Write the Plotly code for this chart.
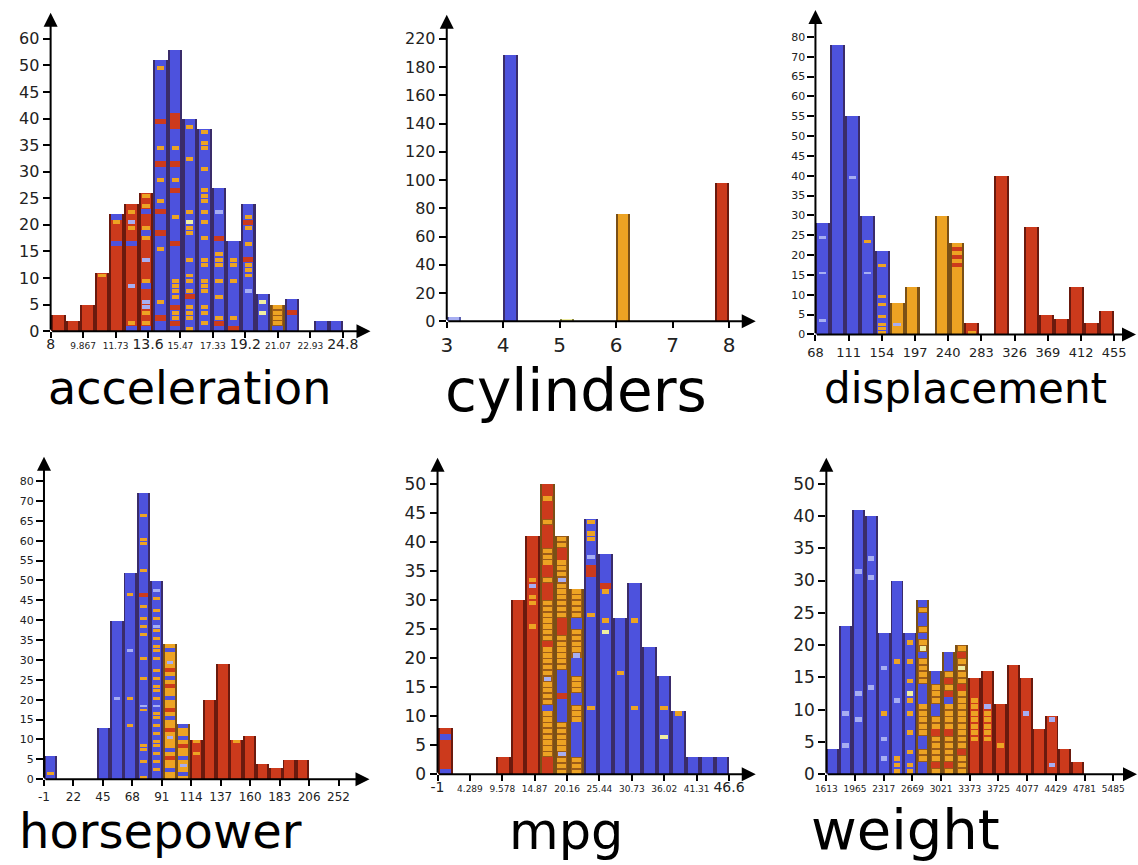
import re
import plotly.graph_objects as go

FONT = "DejaVu Sans"
W, H = 1138, 865

# ---------------------------------------------------------------------------
# Data: every histogram has 20 equal bins.  Each bin is a run-length string,
# read bottom to top, one unit per car, coloured by cylinder count:
#   L = 3 cylinders, B = 4, Y = 5, O = 6, R = 8
# ---------------------------------------------------------------------------
ACCEL_X_LABELS = ["8", "9.867", "11.73", "13.6", "15.47", "17.33", "19.2", "21.07", "22.93", "24.8"]
ACCEL_Y_LABELS = ["0", "5", "10", "15", "20", "25", "30", "35", "40", "45", "50", "60"]
ACCEL_BINS = [
    "R3", "R2", "R5", "R10O1", "R16B1R3O1B1",
    "B1O1R6L1R7B1R2O1L1R1O1R1",
    "B1O1R1O1L2R2B1O1R3L1R3O1B1O1R2B1O1R1O1",
    "B2R1B2O1B9O1B2R1B3R1B1O1B3O1B2R1B2O1B4R1B9O1B1",
    "B1R1O2R1B1O4B6R1B4O1B4R1B1O1B2R1B2O1B3R3B12",
    "O1B1O3B1R1O1B1O2B2O1B4O2Y1B1O1B9O1B5O1B1",
    "B1O1B1O2B2O3B2O2B3O1B2O1B1O1B1O3B3O1B3O2B1O1",
    "B1R1O1B3O1B2O1B2O3B2R1B4L1B4",
    "R1B1O1B6O1B2O2B3",
    "B7L1B2O3R1B2O1B2O1R1O1B2",
    "B3Y1B1Y1B1", "B1O4", "B3R1B2", "", "B2", "B2",
]

CYL_X_LABELS = ["3", "4", "5", "6", "7", "8"]
CYL_Y_LABELS = ["0", "20", "40", "60", "80", "100", "120", "140", "160", "180", "220"]
CYL_BINS = [
    "L3", "", "", "", "B189", "", "", "", "Y2", "", "", "", "O76",
    "", "", "", "", "", "", "R98",
]

DISP_X_LABELS = ["68", "111", "154", "197", "240", "283", "326", "369", "412", "455"]
DISP_Y_LABELS = ["0", "5", "10", "15", "20", "25", "30", "35", "40", "45", "50",
                 "55", "60", "65", "70", "80"]
DISP_BINS = [
    "B3L1B11L1B8L1B3", "B73", "B39L1B15", "B15L1B7O1B6", "O3B1O1B2O1B1O1B7O1B3",
    "O2L1O5", "O12", "", "O30", "O17R1O1R1O1R1O1", "O1R2", "", "R40", "", "R27",
    "R5", "R4", "R12", "R3", "R6",
]

HP_X_LABELS = ["-1", "22", "45", "68", "91", "114", "137", "160", "183", "206", "252"]
HP_Y_LABELS = ["0", "5", "10", "15", "20", "25", "30", "35", "40", "45", "50",
               "55", "60", "65", "70", "80"]
HP_BINS = [
    "B1O1B4", "", "", "", "B13", "B20L1B19",
    "B13O1B6O1B11L1B13O1B5",
    "O1B3O1B2O2B8O1L1B6O1B4O1B5O1B1O1B1O1B2O1B2R1B5O1B6O2B5O1B5",
    "B2O1B1O1B1O1B1O2B1O1B1O1B1O2B1L1B1O1B1O2B1O1B1O1B2O1B1O2B1O1B1O1L1B1O1B1O1B2O1B1L1B2",
    "O2B1O2R1O1B1O2L1O1R1O2B1O1R1O2B1O2R1O1B1O1R1O1L1O2B1O1",
    "O1B1O1L1O1B1O2R1O1B1O2B1",
    "R6O1R2O1", "R20", "R29", "R9O1", "R11", "R4", "R3", "R5", "R5",
]

MPG_X_LABELS = ["-1", "4.289", "9.578", "14.87", "20.16", "25.44", "30.73", "36.02", "41.31", "46.6"]
MPG_Y_LABELS = ["0", "5", "10", "15", "20", "25", "30", "35", "40", "45", "50"]
MPG_BINS = [
    "B1R5B1R1", "", "", "", "R3", "R30", "R25O1R3O2R1L1O1R7",
    "R3O8B1O4L1O5R1O7R3O1R2O3R4O1R3O1R2",
    "O3L1O5B4R1B4O6R3O6L1O3R2O2",
    "O3B6O3B2O3B3L1O4B2O5",
    "B11O1B15O1B6R2B1L1B2O2B1O1",
    "B24Y1B1O1B4O1R1B5", "B17O1B9", "B11O1B14O1B6", "B22", "B6Y1B4O1B5",
    "B10O1", "B3", "B3", "B3",
]

WEIGHT_X_LABELS = ["1613", "1965", "2317", "2669", "3021", "3373", "3725", "4077",
                   "4429", "4781", "5485"]
WEIGHT_Y_LABELS = ["0", "5", "10", "15", "20", "25", "30", "35", "40", "50"]
WEIGHT_BINS = [
    "B4", "B4L1B4L1B13", "B8L1B3L1B18L1B9", "B13L1B16L1B2L1B6",
    "B2L1B2L1B3O1B6L1B5", "O3B8L1B5O1B12",
    "O2B1O1B2O1B2O1B1O1Y1B1O1B2O1B2O1B1",
    "B2O2B2O5B3O4B1Y1O1B1O1B2O1B1",
    "O1R1O4R1O2B2O3B2", "O1R1O4R1O4B1R1O1R1O1B3",
    "O3R1O9R1O2Y1O1R1O1", "R5O7R3", "R5O5L1R5", "R4O1R6", "R17",
    "R9L1R5", "R7", "R1L1R6L1", "R4", "R2",
]

# ---------------------------------------------------------------------------
# Panel layout (pixel boxes) and text styling
# ---------------------------------------------------------------------------
PANELS = [
    dict(title="acceleration", xl=ACCEL_X_LABELS, yl=ACCEL_Y_LABELS, bins=ACCEL_BINS,
         xhi="24.8", x0=40, x1=363, xhi_px=335, y0=335, y1=13, ytop_px=39.3,
         yfs=16, xfs=9, xbig=14, big=["8", "13.6", "19.2", "24.8"],
         tx=180, ty=422, tfs=46),
    dict(title="cylinders", xl=CYL_X_LABELS, yl=CYL_Y_LABELS, bins=CYL_BINS,
         xhi="8", x0=440, x1=752, xhi_px=725, y0=325, y1=15, ytop_px=39.3,
         yfs=16, xfs=20, xbig=20, big=[], tx=571, ty=432, tfs=58),
    dict(title="displacement", xl=DISP_X_LABELS, yl=DISP_Y_LABELS, bins=DISP_BINS,
         xhi="455", x0=812.3, x1=1136, xhi_px=1114, y0=338.3, y1=10, ytop_px=37.3,
         yfs=11, xfs=13, xbig=13, big=[], tx=964, ty=420, tfs=42),
    dict(title="horsepower", xl=HP_X_LABELS, yl=HP_Y_LABELS, bins=HP_BINS,
         xhi="206", x0=33.3, x1=362, xhi_px=301, y0=788.3, y1=462, ytop_px=486.7,
         yfs=11, xfs=12, xbig=12, big=[], tx=151, ty=871, tfs=48),
    dict(title="mpg", xl=MPG_X_LABELS, yl=MPG_Y_LABELS, bins=MPG_BINS,
         xhi="46.6", x0=430.7, x1=752, xhi_px=725, y0=783.3, y1=463, ytop_px=489.3,
         yfs=17, xfs=9, xbig=14, big=["-1", "46.6"], tx=560, ty=873, tfs=51),
    dict(title="weight", xl=WEIGHT_X_LABELS, yl=WEIGHT_Y_LABELS, bins=WEIGHT_BINS,
         xhi="4781", x0=823.3, x1=1137, xhi_px=1084, y0=783.3, y1=463, ytop_px=489.3,
         yfs=17, xfs=9, xbig=9, big=[], tx=903, ty=874, tfs=56),
]

FILL = {"B": "#4d52dd", "R": "#cc3a1c", "O": "#eda323", "L": "#a7aef2", "Y": "#efeda2"}
EDGE = {"B": "#3a2c6a", "R": "#6a1a0e", "O": "#7a5016", "L": "#5c61b0", "Y": "#8c8a44"}
LADDER_BG = "#9c5c18"


def parse(code):
    return [(c, int(n)) for c, n in re.findall(r"([BORLY])(\d+)", code)]


fig = go.Figure()
annotations = []

for k, p in enumerate(PANELS, start=1):
    xa = "x" if k == 1 else f"x{k}"
    ya = "y" if k == 1 else f"y{k}"
    lo = float(p["xl"][0])
    hi = float(p["xhi"])
    nb = len(p["bins"])
    bw = (hi - lo) / nb
    pxu = (p["xhi_px"] - p["x0"]) / (hi - lo)
    xmax = lo + (p["x1"] - p["x0"]) / pxu
    ystep = float(p["yl"][1]) - float(p["yl"][0])
    ytop = ystep * (len(p["yl"]) - 1)
    pyu = (p["y0"] - p["ytop_px"]) / ytop
    ymax = (p["y0"] - p["y1"]) / pyu
    ladder = pyu >= 5

    centers, counts, bases = [], [], []
    sx, sb, sh, sw, sc = [], [], [], [], []
    for i, code in enumerate(p["bins"]):
        runs = parse(code)
        n = sum(r[1] for r in runs)
        if n == 0:
            continue
        tally = {}
        for c, m in runs:
            tally[c] = tally.get(c, 0) + m
        base = max(tally, key=tally.get)
        xc = lo + (i + 0.5) * bw
        centers.append(xc)
        counts.append(n)
        bases.append(base)
        pos = 0
        for c, m in runs:
            if c == base and not (c == "O" and ladder):
                pos += m
                continue
            if c in "BR":
                sx.append(xc); sb.append(pos); sh.append(m)
                sw.append(bw * 0.72); sc.append(FILL[c])
            else:
                dw = bw * (0.62 if c == base else 0.5)
                for j in range(m):
                    sx.append(xc); sb.append(pos + j + 0.13); sh.append(0.74)
                    sw.append(dw); sc.append(FILL[c])
            pos += m

    inner = [LADDER_BG if (b == "O" and ladder) else FILL[b] for b in bases]
    common = dict(xaxis=xa, yaxis=ya, hoverinfo="skip", showlegend=False)
    fig.add_trace(go.Bar(x=centers, y=counts, width=[bw] * len(centers),
                         marker=dict(color=[EDGE[b] for b in bases], line_width=0), **common))
    fig.add_trace(go.Bar(x=centers, y=counts, width=[bw * 0.72] * len(centers),
                         marker=dict(color=inner, line_width=0), **common))
    if sx:
        fig.add_trace(go.Bar(x=sx, y=sh, base=sb, width=sw,
                             marker=dict(color=sc, line_width=0), **common))

    # x tick labels; the wider ones are set in a larger size
    xstep = (hi - lo) / 9 if p["title"] != "cylinders" else 1.0
    tickvals = [lo + t * xstep for t in range(len(p["xl"]))]
    ticktext = [f'<span style="font-size:{p["xbig"]}px">{s}</span>' if s in p["big"] else s
                for s in p["xl"]]

    fig.update_layout({
        ("xaxis" if k == 1 else f"xaxis{k}"): dict(
            domain=[p["x0"] / W, p["x1"] / W], range=[lo, xmax], anchor=ya,
            tickmode="array", tickvals=tickvals, ticktext=ticktext,
            ticks="outside", ticklen=6, tickwidth=2, tickcolor="black",
            showline=False, showgrid=False, zeroline=False,
            tickfont=dict(family=FONT, size=p["xfs"], color="#222")),
        ("yaxis" if k == 1 else f"yaxis{k}"): dict(
            domain=[1 - p["y0"] / H, 1 - p["y1"] / H], range=[0, ymax], anchor=xa,
            tickmode="array", tickvals=[t * ystep for t in range(len(p["yl"]))],
            ticktext=p["yl"], ticks="outside", ticklen=7, tickwidth=2, tickcolor="black",
            showline=False, showgrid=False, zeroline=False,
            tickfont=dict(family=FONT, size=p["yfs"], color="#222")),
    })

    arrow = dict(xref=xa, yref=ya, axref=xa, ayref=ya, showarrow=True, text="",
                 arrowhead=2, arrowsize=1.4, arrowwidth=2, arrowcolor="black",
                 standoff=0, startstandoff=0)
    annotations.append(dict(x=xmax, y=0, ax=lo, ay=0, **arrow))
    annotations.append(dict(x=lo, y=ymax, ax=lo, ay=0, **arrow))
    annotations.append(dict(x=p["tx"] / W, y=1 - p["ty"] / H, xref="paper", yref="paper",
                            xanchor="center", yanchor="bottom", showarrow=False,
                            text=p["title"], font=dict(family=FONT, size=p["tfs"], color="black")))

fig.update_layout(
    width=W, height=H, margin=dict(l=0, r=0, t=0, b=0),
    paper_bgcolor="white", plot_bgcolor="white",
    barmode="overlay", bargap=0, annotations=annotations,
)

fig.write_html("out.html")
